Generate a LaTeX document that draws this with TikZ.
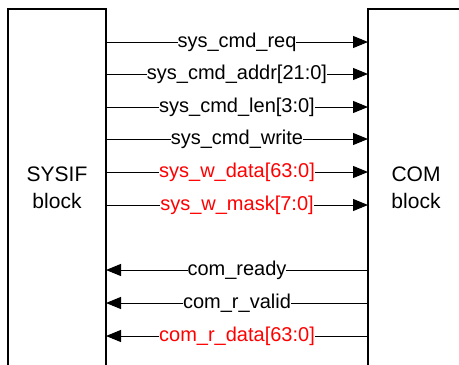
\documentclass[tikz,border=0pt]{standalone}
\usepackage{fontspec}
\setmainfont{Liberation Sans}
\usetikzlibrary{arrows.meta}
\tikzset{
  blockline/.style={line width=1.2pt, black},
  sig/.style={line width=1pt, -{Triangle[length=15pt,width=12pt]}},
  sigl/.style={fill=white, inner xsep=0pt, inner ysep=1pt, font=\fontsize{20}{22}\selectfont},
  blocklabel/.style={align=center, font=\fontsize{21}{27}\selectfont},
}
\begin{document}
\begin{tikzpicture}[x=1pt, y=-1pt]
\useasboundingbox (0,0) rectangle (459,365);
% block outlines (open at the page edges)
\draw[blockline] (8,366) -- (8,9) -- (106,9) -- (106,366);
\draw[blockline] (368,366) -- (368,9) -- (460,9);
\node[blocklabel] (sysif) at (57,188) {SYSIF\\block};
\node[blocklabel] (com) at (416,188) {COM\\block};
% signal anchors on the block edges
\foreach \n/\y in {a/42,b/74,c/107,d/139,e/172,f/205,g/270,h/303,i/336} {
  \coordinate (L\n) at (106,\y);
  \coordinate (R\n) at (368,\y);
}
% SYSIF -> COM
\draw[sig] (La) -- node[sigl] {sys\_cmd\_req} (Ra);
\draw[sig] (Lb) -- node[sigl] {sys\_cmd\_addr[21:0]} (Rb);
\draw[sig] (Lc) -- node[sigl] {sys\_cmd\_len[3:0]} (Rc);
\draw[sig] (Ld) -- node[sigl] {sys\_cmd\_write} (Rd);
\draw[sig] (Le) -- node[sigl, text=red] {sys\_w\_data[63:0]} (Re);
\draw[sig] (Lf) -- node[sigl, text=red] {sys\_w\_mask[7:0]} (Rf);
% COM -> SYSIF
\draw[sig] (Rg) -- node[sigl] {com\_ready} (Lg);
\draw[sig] (Rh) -- node[sigl] {com\_r\_valid} (Lh);
\draw[sig] (Ri) -- node[sigl, text=red] {com\_r\_data[63:0]} (Li);
\end{tikzpicture}
\end{document}
